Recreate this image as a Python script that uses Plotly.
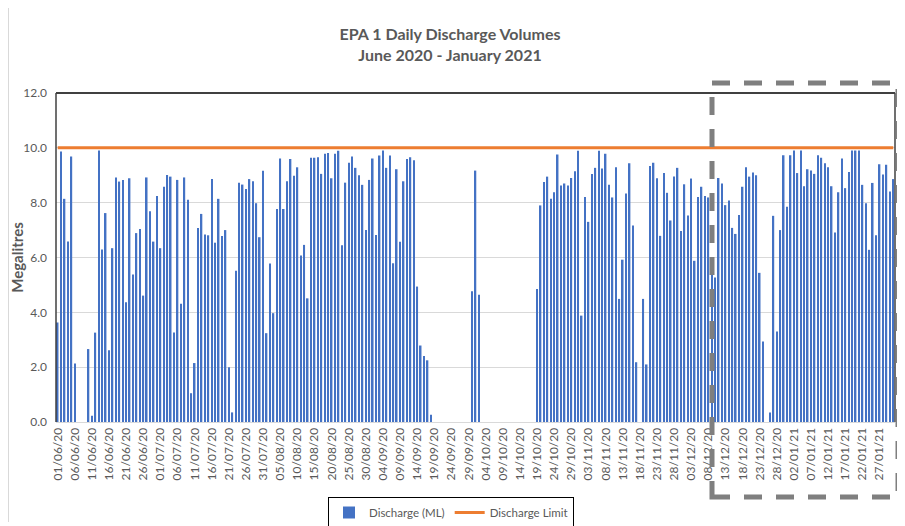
import pandas as pd
import plotly.graph_objects as go

# ---- data ----
start_date = "2020-06-01"
end_date = "2021-01-31"
dates = [d.strftime("%d/%m/%y") for d in pd.date_range(start_date, end_date, freq="D")]

discharge_ml = [
    3.63, 9.87, 8.14, 6.58, 9.68, 2.13, 0, 0, 0, 2.66,
    0.23, 3.26, 9.90, 6.29, 7.62, 2.62, 6.34, 8.92, 8.77, 8.83,
    4.37, 8.89, 5.38, 6.89, 7.04, 4.61, 8.92, 7.69, 6.58, 8.24,
    6.34, 8.58, 9.01, 8.95, 3.26, 8.83, 4.31, 8.92, 8.11, 1.05,
    2.15, 7.08, 7.59, 6.84, 6.81, 8.86, 6.54, 8.14, 6.78, 7.00,
    2.00, 0.35, 5.52, 8.73, 8.66, 8.50, 8.86, 8.78, 7.98, 6.74,
    9.16, 3.24, 5.78, 3.97, 7.77, 9.61, 7.77, 8.78, 9.59, 8.98,
    9.29, 6.07, 6.46, 4.51, 9.64, 9.64, 9.66, 9.05, 9.78, 9.81,
    8.89, 9.78, 9.89, 6.45, 8.73, 9.46, 9.68, 9.27, 9.00, 8.65,
    7.00, 8.83, 9.61, 6.82, 9.72, 9.90, 9.27, 9.72, 5.79, 9.22,
    6.57, 8.78, 9.59, 9.66, 9.55, 4.94, 2.79, 2.41, 2.25, 0.26,
    0, 0, 0, 0, 0, 0, 0, 0, 0, 0,
    0, 4.77, 9.17, 4.64, 0, 0, 0, 0, 0, 0,
    0, 0, 0, 0, 0, 0, 0, 0, 0, 0,
    4.85, 7.90, 8.75, 8.95, 8.14, 8.38, 9.76, 8.63, 8.70, 8.63,
    8.90, 9.15, 9.89, 3.88, 8.21, 7.30, 9.05, 9.27, 9.89, 9.25,
    9.78, 8.65, 8.19, 9.29, 4.49, 5.92, 8.33, 9.44, 7.17, 2.18,
    0, 4.49, 2.10, 9.34, 9.46, 8.89, 6.79, 9.08, 8.36, 7.35,
    8.95, 9.27, 6.97, 8.67, 7.53, 8.88, 5.88, 8.21, 8.58, 8.24,
    8.19, 5.47, 5.27, 8.90, 8.70, 7.91, 8.08, 7.08, 6.86, 7.55,
    8.58, 9.29, 8.95, 9.10, 9.00, 5.44, 2.94, 0, 0.35, 7.52,
    3.30, 7.00, 9.73, 7.85, 9.73, 9.90, 9.08, 9.90, 8.60, 9.22,
    9.17, 9.05, 9.73, 9.64, 9.44, 9.29, 8.60, 6.91, 8.38, 9.61,
    8.53, 9.12, 9.90, 9.90, 9.90, 8.65, 7.98, 6.28, 8.72, 6.81,
    9.40, 9.03, 9.38, 8.41, 8.86,
]
discharge_limit = [10.0] * len(dates)
tick_labels = dates[::5]
y_ticks = [0, 2, 4, 6, 8, 10, 12]

FONT = "Lato"
GREY = "#595959"

# page body has an 8px margin; figure is sized/placed to compensate
OFF = 8
W, H = 905 - OFF, 526 - OFF
PL, PR, PT, PB = 56, 895, 93, 422   # target plot area in window pixels
PW, PH = PR - PL, PB - PT


def px(xw):
    return (xw - PL) / PW


def py(yw):
    return (PB - yw) / PH


fig = go.Figure()
fig.add_trace(go.Bar(
    x=dates, y=discharge_ml, name="Discharge (ML)",
    marker=dict(color="#4472C4", line=dict(width=0)),
))
fig.add_trace(go.Scatter(
    x=dates, y=discharge_limit, name="Discharge Limit", mode="lines",
    line=dict(color="#ED7D31", width=3),
))

fig.update_layout(
    width=W, height=H,
    margin=dict(l=PL - OFF, r=OFF + W - PR, t=PT - OFF, b=OFF + H - PB, autoexpand=False),
    paper_bgcolor="white", plot_bgcolor="white",
    font=dict(family=FONT, color=GREY, size=11),
    bargap=0.55,
    title=dict(
        text="<b>EPA 1 Daily Discharge Volumes<br>June 2020 - January 2021</b>",
        x=px(450), xanchor="center", xref="paper",
        y=1 - (40 - OFF) / H, yanchor="middle", yref="container",
        font=dict(family=FONT, size=16, color=GREY),
    ),
    showlegend=True,
    legend=dict(
        orientation="h", x=px(451), xanchor="center", y=py(497), yanchor="top",
        bordercolor="black", borderwidth=1, bgcolor="white",
        font=dict(family=FONT, size=11.5, color=GREY),
    ),
    xaxis=dict(
        type="category", range=[-0.5, len(dates) - 0.5], automargin=False,
        tickmode="array", tickvals=tick_labels, ticktext=tick_labels,
        tickangle=-90, showgrid=False, showline=True, linecolor="#d9d9d9",
        linewidth=1, ticks="", tickfont=dict(size=12, color=GREY),
    ),
    yaxis=dict(
        range=[0, 12], tickvals=y_ticks, tickformat=".1f", automargin=False,
        showgrid=True, gridcolor="#d9d9d9", gridwidth=1,
        zeroline=False, showline=False, ticks="",
        tickfont=dict(size=12, color=GREY), ticklabelstandoff=8,
        title=dict(text="<b>Megalitres</b>", font=dict(size=15, color=GREY), standoff=3),
    ),
    shapes=[
        dict(type="line", xref="paper", yref="paper", x0=0, x1=1, y0=1, y1=1,
             line=dict(color="#404040", width=2)),
        dict(type="line", xref="paper", yref="paper", x0=0, x1=0, y0=0, y1=1,
             line=dict(color="#404040", width=1.5)),
        dict(type="line", xref="paper", yref="paper", x0=1, x1=1, y0=0, y1=1,
             line=dict(color="#404040", width=1.5)),
        dict(type="line", xref="paper", yref="paper",
             x0=px(8.5), x1=px(8.5), y0=py(8), y1=py(522),
             line=dict(color="#d9d9d9", width=1)),
        dict(type="rect", xref="paper", yref="paper",
             x0=px(712), x1=px(898), y0=py(497), y1=py(83),
             line=dict(color="#7f7f7f", width=5, dash="18px,14px"),
             fillcolor="rgba(0,0,0,0)", layer="above"),
    ],
)

fig.write_html("out.html")
